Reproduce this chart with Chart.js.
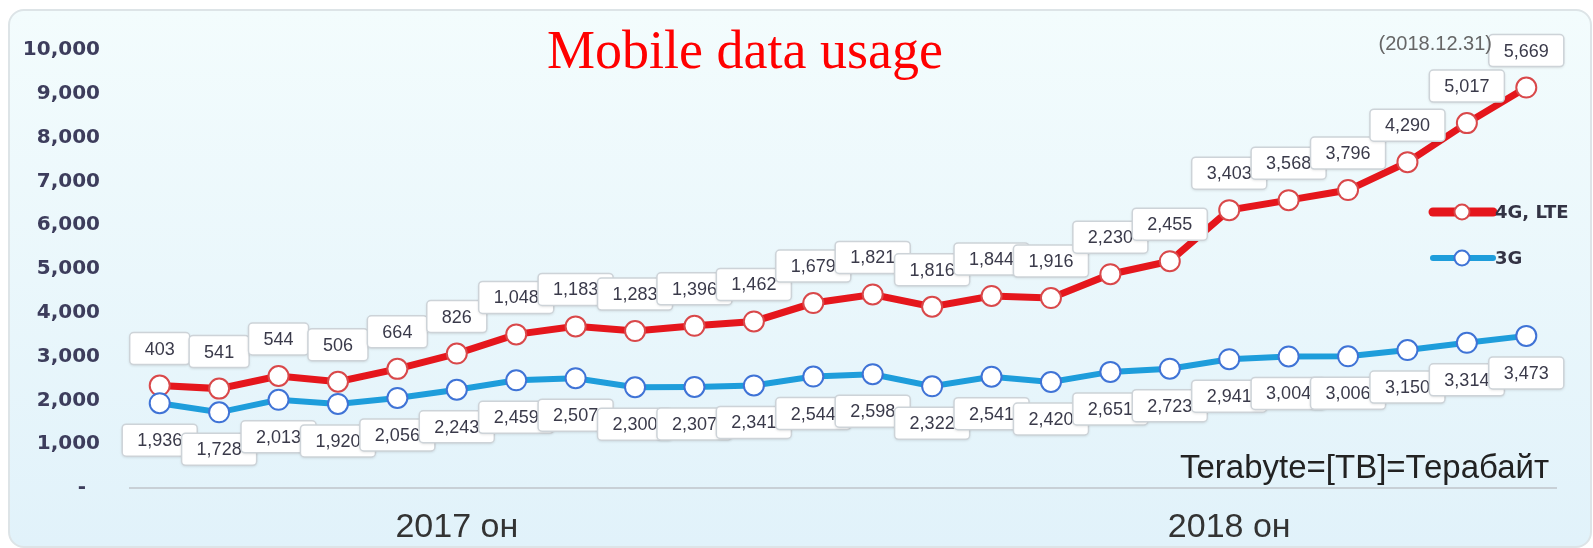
<!DOCTYPE html>
<html>
<head>
<meta charset="utf-8">
<title>Mobile data usage</title>
<script src="https://cdn.jsdelivr.net/npm/chart.js"></script>
<style>
    body { margin: 0; background: #ffffff; }
    .wrap { position: relative; width: 1593px; height: 548px; overflow: hidden; }
    .frame {
        position: absolute; left: 8px; top: 9px; width: 1580px; height: 535px;
        border: 2px solid #dde4e7; border-radius: 16px;
        background: linear-gradient(#f3fcfd, #e1f2fa);
    }
    .box { position: absolute; left: 0; top: 0; width: 1593px; height: 548px; }
</style>
</head>
<body>
<div class="wrap">
    <div class="frame"></div>
    <div class="box"><canvas id="usageChart"></canvas></div>
</div>

<script>
    // months, 2017.01 .. 2018.12
    const months = [
        '2017.01','2017.02','2017.03','2017.04','2017.05','2017.06',
        '2017.07','2017.08','2017.09','2017.10','2017.11','2017.12',
        '2018.01','2018.02','2018.03','2018.04','2018.05','2018.06',
        '2018.07','2018.08','2018.09','2018.10','2018.11','2018.12'
    ];
    const yearTicks = ['2017 он', '2018 он'];
    const yearTickIndex = [5, 18];

    // TB per month
    const usage3G = [1936, 1728, 2013, 1920, 2056, 2243, 2459, 2507, 2300, 2307, 2341, 2544,
                     2598, 2322, 2541, 2420, 2651, 2723, 2941, 3004, 3006, 3150, 3314, 3473];
    const usage4G = [403, 541, 544, 506, 664, 826, 1048, 1183, 1283, 1396, 1462, 1679,
                     1821, 1816, 1844, 1916, 2230, 2455, 3403, 3568, 3796, 4290, 5017, 5669];

    const RED = '#e5161c';
    const BLUE = '#1e9ddb';
    const SANS = '"Liberation Sans", Arial, sans-serif';
    const BOLD = '"DejaVu Sans", Verdana, sans-serif';

    // white value boxes: 3G below the point, 4G above
    const boxLabels = {
        id: 'boxLabels',
        afterDatasetsDraw(chart) {
            const ctx = chart.ctx;
            ctx.save();
            ctx.font = '18px ' + SANS;
            ctx.textAlign = 'center';
            ctx.textBaseline = 'middle';
            chart.data.datasets.forEach((ds, di) => {
                const meta = chart.getDatasetMeta(di);
                const dir = di === 0 ? 1 : -1;
                meta.data.forEach((pt, i) => {
                    const txt = ds.data[i].toLocaleString('en-US');
                    const w = ctx.measureText(txt).width + 30, h = 32;
                    const cx = pt.x, cy = pt.y + dir * 37;
                    ctx.shadowColor = 'rgba(0,0,0,0.15)';
                    ctx.shadowBlur = 3;
                    ctx.shadowOffsetY = 1;
                    ctx.beginPath();
                    ctx.roundRect(cx - w / 2, cy - h / 2, w, h, 4);
                    ctx.fillStyle = '#ffffff';
                    ctx.fill();
                    ctx.shadowColor = 'transparent';
                    ctx.strokeStyle = '#cdd3d8';
                    ctx.lineWidth = 1.5;
                    ctx.stroke();
                    ctx.fillStyle = '#3a3a4a';
                    ctx.fillText(txt, cx, cy + 1);
                });
            });
            ctx.restore();
        }
    };

    // title, notes and legend
    const decor = {
        id: 'decor',
        afterDraw(chart) {
            const ctx = chart.ctx;
            ctx.save();
            ctx.textBaseline = 'alphabetic';
            ctx.textAlign = 'center';
            ctx.fillStyle = '#ff0000';
            ctx.font = '54px "Liberation Serif", "Times New Roman", serif';
            ctx.fillText('Mobile data usage', 745, 68);

            ctx.textAlign = 'right';
            ctx.fillStyle = '#666666';
            ctx.font = '20px ' + SANS;
            ctx.fillText('(2018.12.31)', 1492, 50);

            ctx.textAlign = 'left';
            ctx.fillStyle = '#222222';
            ctx.font = '33px ' + SANS;
            ctx.fillText('Terabyte=[TB]=Терабайт', 1180, 478);

            const items = [['4G, LTE', RED, 9, '#d9484a', 212], ['3G', BLUE, 6, '#3f73d6', 258]];
            ctx.lineCap = 'round';
            items.forEach(([name, col, lw, ring, y]) => {
                ctx.strokeStyle = col;
                ctx.lineWidth = lw;
                ctx.beginPath();
                ctx.moveTo(1433, y);
                ctx.lineTo(1493, y);
                ctx.stroke();
                ctx.beginPath();
                ctx.arc(1462, y, 7.5, 0, Math.PI * 2);
                ctx.fillStyle = '#ffffff';
                ctx.fill();
                ctx.lineWidth = 2;
                ctx.strokeStyle = ring;
                ctx.stroke();
                ctx.fillStyle = '#333344';
                ctx.font = 'bold 18px ' + BOLD;
                ctx.textBaseline = 'middle';
                ctx.fillText(name, 1495, y + 1);
            });
            ctx.restore();
        }
    };

    new Chart(document.getElementById('usageChart'), {
        type: 'line',
        data: {
            labels: months,
            datasets: [{
                label: '3G',
                data: usage3G,
                borderColor: BLUE,
                borderWidth: 6,
                pointRadius: 10,
                pointBackgroundColor: '#ffffff',
                pointBorderColor: '#3f73d6',
                pointBorderWidth: 2,
                fill: false,
                tension: 0
            }, {
                label: '4G, LTE',
                data: usage4G,
                borderColor: RED,
                borderWidth: 7,
                pointRadius: 10,
                pointBackgroundColor: '#ffffff',
                pointBorderColor: '#d9484a',
                pointBorderWidth: 2,
                fill: false,
                tension: 0
            }]
        },
        options: {
            responsive: true,
            maintainAspectRatio: false,
            animation: false,
            layout: { padding: { top: 50, right: 37, left: 0, bottom: 0 } },
            plugins: {
                legend: { display: false },
                tooltip: { enabled: false }
            },
            scales: {
                x: {
                    offset: true,
                    grid: { display: false, drawTicks: false, offset: true },
                    border: { color: '#c8d0d6', width: 2 },
                    ticks: {
                        autoSkip: false,
                        maxRotation: 0,
                        padding: 19,
                        color: '#333333',
                        font: { size: 34, family: SANS },
                        callback: (v, i) => {
                            const k = yearTickIndex.indexOf(i);
                            return k < 0 ? '' : yearTicks[k];
                        }
                    },
                    afterFit: s => { s.height = 60; }
                },
                y: {
                    stacked: true,
                    min: 0,
                    max: 10000,
                    grid: { display: false, drawTicks: false },
                    border: { display: false },
                    ticks: {
                        stepSize: 1000,
                        padding: 30,
                        color: '#3d3d5c',
                        font: { size: 20, weight: 'bold', family: BOLD },
                        callback: v => v === 0 ? '-  ' : v.toLocaleString('en-US')
                    },
                    afterFit: s => { s.width = 130; }
                }
            }
        },
        plugins: [boxLabels, decor]
    });
</script>
</body>
</html>
